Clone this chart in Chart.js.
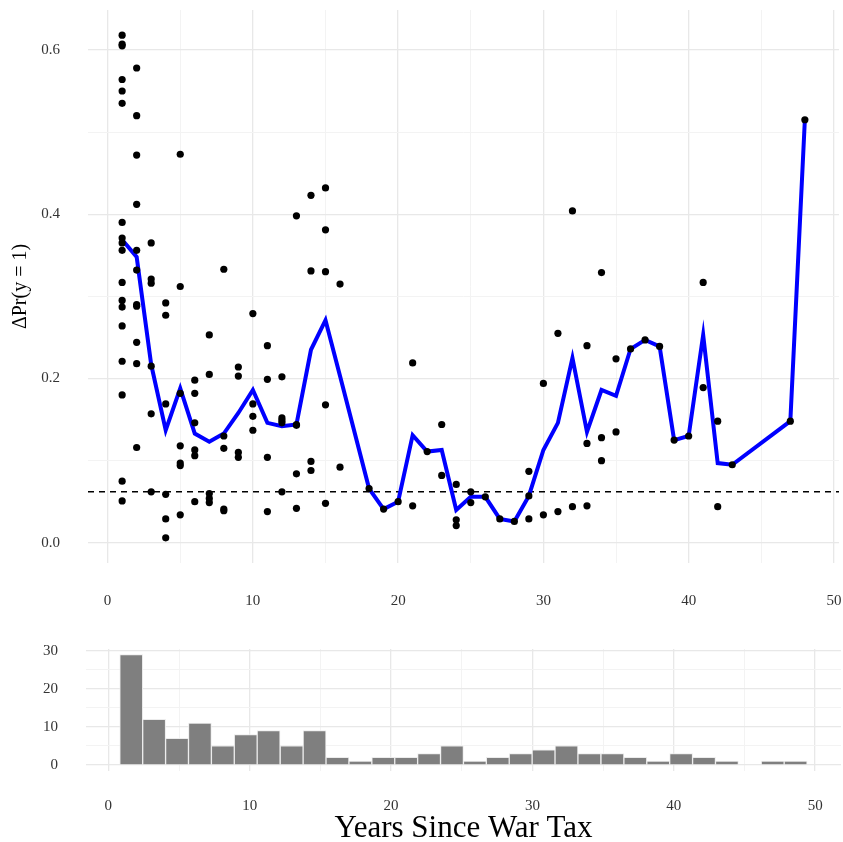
<!DOCTYPE html>
<html>
<head>
<meta charset="utf-8">
<script src="https://cdn.jsdelivr.net/npm/chart.js@4"></script>
<style>
    body { margin: 0; background: #fff; }
    #wrap { position: relative; width: 843px; height: 842px; overflow: hidden; }
    #topChart { position: absolute; left: 0; top: 0; }
    #histChart { position: absolute; left: 0; top: 630px; }
</style>
</head>
<body>
<div id="wrap">
    <canvas id="topChart" width="843" height="625"></canvas>
    <canvas id="histChart" width="843" height="216"></canvas>
</div>
<script>
// scatter points: years since war tax and ΔPr(y = 1)
var pointYears = [
    1,1,1,1,1,1,1,1,1,1,1,1,1,1,1,1,1,1,
    2,2,2,2,2,2,2,2,2,2,2,
    3,3,3,3,3,3,
    4,4,4,4,4,4,
    5,5,5,5,5,5,5,
    6,6,6,6,6,6,
    7,7,7,7,7,
    8,8,8,8,8,
    9,9,9,9,
    10,10,10,10,
    11,11,11,11,
    12,12,12,12,12,
    13,13,13,13,13,
    14,14,14,14,
    15,15,15,15,15,
    16,16,
    18, 19, 20,
    21,21, 22, 23,23,
    24,24,24, 25,25, 26, 27, 28,
    29,29,29, 30,30, 31,31, 32,32,
    33,33,33, 34,34,34, 35,35,
    36, 37, 38, 39, 40, 41,41, 42,42, 43, 47, 48
];
var pointValues = [
    0.618,0.607,0.605,0.564,0.550,0.535,0.390,0.371,0.365,0.356,0.317,0.295,0.287,0.264,0.221,0.180,0.075,0.051,
    0.578,0.520,0.472,0.412,0.356,0.332,0.290,0.288,0.244,0.218,0.116,
    0.365,0.321,0.316,0.215,0.157,0.062,
    0.292,0.277,0.169,0.059,0.029,0.006,
    0.473,0.312,0.182,0.118,0.097,0.094,0.034,
    0.198,0.182,0.146,0.113,0.106,0.050,
    0.253,0.205,0.060,0.054,0.049,
    0.333,0.130,0.115,0.041,0.039,
    0.214,0.203,0.110,0.104,
    0.279,0.169,0.154,0.137,
    0.240,0.199,0.104,0.038,
    0.202,0.152,0.149,0.146,0.062,
    0.398,0.144,0.143,0.084,0.042,
    0.423,0.331,0.099,0.088,
    0.432,0.381,0.330,0.168,0.048,
    0.315,0.092,
    0.066, 0.041, 0.050,
    0.219,0.045, 0.111, 0.144,0.082,
    0.071,0.028,0.021, 0.062,0.049, 0.056, 0.029, 0.026,
    0.087,0.057,0.029, 0.194,0.034, 0.255,0.038, 0.404,0.044,
    0.240,0.121,0.045, 0.329,0.128,0.100, 0.224,0.135,
    0.236, 0.247, 0.239, 0.125, 0.130, 0.317,0.189, 0.148,0.044, 0.095, 0.148, 0.515
];

// blue line (average by year)
var lineYears = [1,2,3,4,5,6,7,8,9,10,11,12,13,14,15,16,18,19,20,21,22,23,24,25,26,27,28,29,30,31,32,33,34,35,36,37,38,39,40,41,42,43,47,48];
var lineValues = [0.369,0.348,0.217,0.137,0.188,0.133,0.123,0.133,0.158,0.186,0.146,0.142,0.144,0.235,0.271,0.203,
    0.066,0.041,0.050,0.131,0.111,0.113,0.040,0.056,0.056,0.029,0.026,0.057,0.113,0.146,0.225,0.135,0.186,0.179,
    0.236,0.247,0.239,0.125,0.130,0.253,0.097,0.095,0.148,0.515];

var refLine = 0.062;

// histogram bins (centres) and counts
var binCenters = [1.62,3.24,4.86,6.48,8.10,9.72,11.34,12.97,14.59,16.21,17.83,19.45,21.07,22.69,24.31,
    25.93,27.55,29.17,30.79,32.41,34.03,35.66,37.28,38.90,40.52,42.14,43.76,45.38,47.00,48.62];
var binCounts = [29,12,7,11,5,8,9,5,9,2,1,2,2,3,5,1,2,3,4,5,3,3,2,1,3,2,1,0,1,1];

var yTicksTop = [0, 0.1, 0.2, 0.3, 0.4, 0.5, 0.6];
var yTicksHist = [0, 5, 10, 15, 20, 25, 30];
var xTicks = [0, 5, 10, 15, 20, 25, 30, 35, 40, 45, 50];

var serif = 'Liberation Serif';
var majorGrid = '#e8e8e8';
var minorGrid = '#f3f3f3';

function setTicks(list) {
    return function (scale) {
        scale.ticks = list.map(function (v) { return { value: v }; });
    };
}

// fixed box size, and no extra label padding pushed into the layout
function fixSize(w, h) {
    return function (s) {
        if (w) s.width = w;
        if (h) s.height = h;
        s.paddingTop = 0; s.paddingBottom = 0;
        s.paddingLeft = 0; s.paddingRight = 0;
    };
}

function isMajor(v, step) {
    return Math.abs(Math.round(v / step) * step - v) < 1e-9;
}

function gridStyle(step) {
    return {
        drawTicks: false,
        color: function (c) { return c.tick && isMajor(c.tick.value, step) ? majorGrid : minorGrid; },
        lineWidth: function (c) { return c.tick && isMajor(c.tick.value, step) ? 1.3 : 1; }
    };
}

Chart.defaults.font.family = serif;
Chart.defaults.color = '#333333';

loadTop();
loadHist();

function loadTop() {
    var pts = pointYears.map(function (x, i) { return { x: x, y: pointValues[i] }; });
    var line = lineYears.map(function (x, i) { return { x: x, y: lineValues[i] }; });
    var dashed = [{ x: -1.35, y: refLine }, { x: 50.35, y: refLine }];

    var ctx = document.getElementById('topChart').getContext('2d');
    new Chart(ctx, {
        type: 'scatter',
        data: {
            datasets: [{
                data: pts,
                backgroundColor: '#000',
                borderColor: '#000',
                pointRadius: 3.6,
                borderWidth: 0
            }, {
                data: line,
                showLine: true,
                borderColor: '#0000ff',
                borderWidth: 4,
                pointRadius: 0,
                borderJoinStyle: 'miter'
            }, {
                data: dashed,
                showLine: true,
                borderColor: '#000',
                borderWidth: 1.5,
                borderDash: [6, 5],
                pointRadius: 0
            }]
        },
        options: {
            responsive: false,
            animation: false,
            devicePixelRatio: 1,
            layout: { padding: { top: 10, left: 0, right: 0, bottom: 0 } },
            plugins: { legend: { display: false }, tooltip: { enabled: false } },
            scales: {
                x: {
                    type: 'linear', min: -1.35, max: 50.35,
                    afterBuildTicks: setTicks(xTicks),
                    afterFit: fixSize(0, 62),
                    border: { display: false },
                    grid: gridStyle(10),
                    ticks: {
                        padding: 29, maxRotation: 0, autoSkip: false,
                        font: { size: 15 },
                        callback: function (v) { return isMajor(v, 10) ? v : ''; }
                    }
                },
                y: {
                    type: 'linear', min: -0.0246, max: 0.6486,
                    afterBuildTicks: setTicks(yTicksTop),
                    afterFit: fixSize(88, 0),
                    border: { display: false },
                    grid: gridStyle(0.2),
                    ticks: {
                        padding: 28, autoSkip: false,
                        font: { size: 15 },
                        callback: function (v) { return isMajor(v, 0.2) ? v.toFixed(1) : ''; }
                    },
                    title: {
                        display: true,
                        text: 'ΔPr(y = 1)',
                        font: { size: 20 },
                        color: '#000',
                        padding: { top: 9, bottom: 0 }
                    }
                }
            }
        }
    });
}

function loadHist() {
    var bars = [];
    binCenters.forEach(function (x, i) {
        bars.push({ x: x, y: binCounts[i] > 0 ? binCounts[i] : null });
    });

    var ctx = document.getElementById('histChart').getContext('2d');
    new Chart(ctx, {
        type: 'bar',
        data: {
            datasets: [{
                data: bars,
                backgroundColor: '#7f7f7f',
                borderColor: '#ececec',
                borderWidth: 1,
                barPercentage: 1,
                categoryPercentage: 1
            }]
        },
        options: {
            responsive: false,
            animation: false,
            devicePixelRatio: 1,
            layout: { padding: { top: 19, left: 0, right: 2, bottom: 0 } },
            plugins: { legend: { display: false }, tooltip: { enabled: false } },
            scales: {
                x: {
                    type: 'linear', min: -1.58, max: 51.83, offset: false,
                    afterBuildTicks: setTicks(xTicks),
                    afterFit: fixSize(0, 75.5),
                    border: { display: false },
                    grid: Object.assign({ offset: false }, gridStyle(10)),
                    ticks: {
                        padding: 27, maxRotation: 0, autoSkip: false,
                        font: { size: 15 },
                        callback: function (v) { return isMajor(v, 10) ? v : ''; }
                    },
                    title: {
                        display: true,
                        text: 'Years Since War Tax',
                        font: { size: 31, lineHeight: 1 },
                        color: '#000',
                        padding: { top: 0, bottom: 2 }
                    }
                },
                y: {
                    type: 'linear', min: -1.45, max: 30.45,
                    afterBuildTicks: setTicks(yTicksHist),
                    afterFit: fixSize(86, 0),
                    border: { display: false },
                    grid: gridStyle(10),
                    ticks: {
                        padding: 28, autoSkip: false,
                        font: { size: 15 },
                        callback: function (v) { return isMajor(v, 10) ? v : ''; }
                    }
                }
            }
        }
    });
}
</script>
</body>
</html>
